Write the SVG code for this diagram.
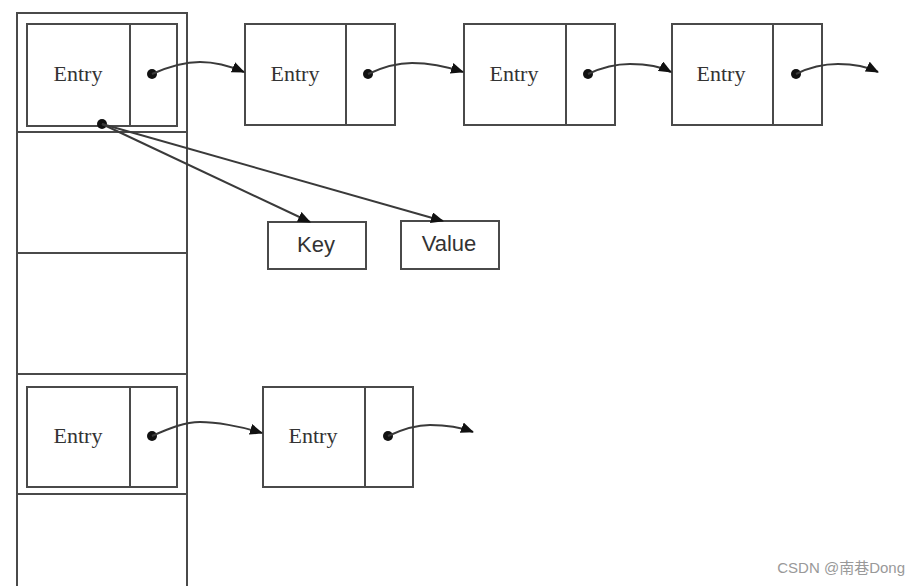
<svg xmlns="http://www.w3.org/2000/svg" width="920" height="586" viewBox="0 0 920 586">
<style>
.box{fill:none;stroke:#4a4a4a;stroke-width:2}
.ln{fill:none;stroke:#3a3a3a;stroke-width:2}
.et{font-family:"Liberation Serif",serif;font-size:22px;fill:#333;text-anchor:middle}
.kv{font-family:"Liberation Sans",sans-serif;font-size:22px;fill:#333;text-anchor:middle}
.dot{fill:#111}
</style>
<defs>
<marker id="ah" markerWidth="13" markerHeight="11" refX="12" refY="5.5" orient="auto" markerUnits="userSpaceOnUse">
<path d="M0,0 L13,5.5 L0,11 z" fill="#111"/>
</marker>
</defs>
<rect width="920" height="586" fill="#fff"/>
<g id="table">
<path class="box" d="M17,586 V13 H187 V586 M17,132 H187 M17,253 H187 M17,374 H187 M17,494 H187"/>
</g>
<g id="entry1">
<rect class="box" x="27" y="24" width="150" height="102"/>
<line class="box" x1="130" y1="24" x2="130" y2="126"/>
<text class="et" x="78" y="81">Entry</text>
<circle class="dot" cx="152" cy="74" r="5"/>
<circle class="dot" cx="102" cy="124" r="5"/>
</g>
<g id="entry2">
<rect class="box" x="245" y="24" width="150" height="101"/>
<line class="box" x1="346" y1="24" x2="346" y2="125"/>
<text class="et" x="295" y="81">Entry</text>
<circle class="dot" cx="368" cy="74" r="5"/>
</g>
<g id="entry3">
<rect class="box" x="464" y="24" width="151" height="101"/>
<line class="box" x1="566" y1="24" x2="566" y2="125"/>
<text class="et" x="514" y="81">Entry</text>
<circle class="dot" cx="588" cy="74" r="5"/>
</g>
<g id="entry4">
<rect class="box" x="672" y="24" width="150" height="101"/>
<line class="box" x1="773" y1="24" x2="773" y2="125"/>
<text class="et" x="721" y="81">Entry</text>
<circle class="dot" cx="796" cy="74" r="5"/>
</g>
<g id="key">
<rect class="box" x="268" y="222" width="98" height="47"/>
<text class="kv" x="316" y="252">Key</text>
</g>
<g id="value">
<rect class="box" x="401" y="221" width="98" height="48"/>
<text class="kv" x="449" y="251">Value</text>
</g>
<g id="entry5">
<rect class="box" x="27" y="387" width="150" height="100"/>
<line class="box" x1="130" y1="387" x2="130" y2="487"/>
<text class="et" x="78" y="443">Entry</text>
<circle class="dot" cx="152" cy="436" r="5"/>
</g>
<g id="entry6">
<rect class="box" x="263" y="387" width="150" height="100"/>
<line class="box" x1="365" y1="387" x2="365" y2="487"/>
<text class="et" x="313" y="443">Entry</text>
<circle class="dot" cx="388" cy="436" r="5"/>
</g>
<g id="connectors">
<path class="ln" d="M152,74 C170,66 185,62 200,62 S230,66 244,72" marker-end="url(#ah)"/>
<path class="ln" d="M368,74 C385,66 398,63 412,63 S445,66 463,72" marker-end="url(#ah)"/>
<path class="ln" d="M588,74 C605,66 618,64 630,64 S660,66 671,72" marker-end="url(#ah)"/>
<path class="ln" d="M796,74 C812,66 825,64 838,64 S866,66 878,72" marker-end="url(#ah)"/>
<path class="ln" d="M102,124 L310,222" marker-end="url(#ah)"/>
<path class="ln" d="M102,124 L443,221" marker-end="url(#ah)"/>
<path class="ln" d="M152,436 C170,428 185,422 200,422 S240,426 262,433" marker-end="url(#ah)"/>
<path class="ln" d="M388,436 C405,428 418,425 430,425 S460,427 473,432" marker-end="url(#ah)"/>
</g>
<text x="905" y="573" font-family="Liberation Sans,Noto Sans CJK SC,sans-serif" font-size="15" fill="#999" text-anchor="end">CSDN @南巷Dong</text>
</svg>
